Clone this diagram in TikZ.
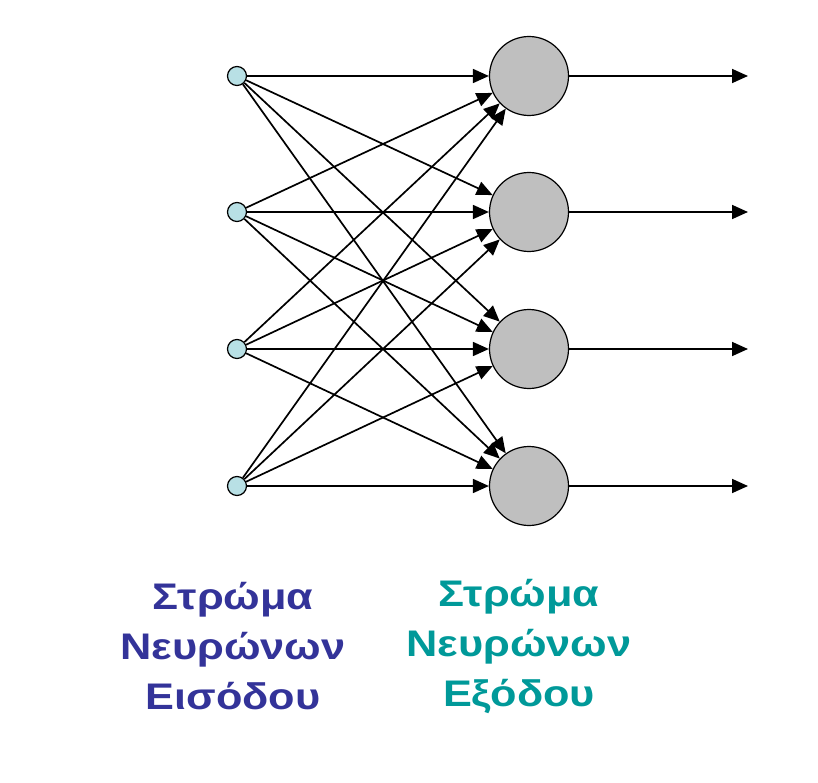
\documentclass[tikz,border=0pt]{standalone}
\usepackage{fontspec}
\newfontfamily\greekfont[FakeStretch=1.17]{Liberation Sans}
\usetikzlibrary{arrows.meta}
\definecolor{inblue}{rgb}{0.2,0.2,0.6}
\definecolor{outteal}{rgb}{0,0.6,0.6}
\definecolor{inputfill}{rgb}{0.72,0.88,0.9}
\definecolor{neurongray}{rgb}{0.75,0.75,0.75}

\begin{document}
\begin{tikzpicture}[x=1pt,y=-1pt,
    innode/.style={circle,draw,line width=1.2pt,fill=inputfill,minimum size=19pt,inner sep=0pt},
    outnode/.style={circle,draw,line width=1.2pt,fill=neurongray,minimum size=79pt,inner sep=0pt},
    link/.style={line width=1.7pt,-{Triangle[length=16pt,width=14pt]}},
    layerlabel/.style={font=\greekfont\bfseries\fontsize{37}{50}\selectfont,align=center}]
  \useasboundingbox (0,0) rectangle (818,783);
  % the two layers
  \foreach \i/\y in {1/76,2/212,3/349,4/486} {
    \node[innode] (in\i) at (237,\y) {};
    \node[outnode] (out\i) at (529,\y) {};
    \coordinate (end\i) at (748,\y);
  }
  % full connections
  \foreach \i in {1,...,4} {
    \foreach \j in {1,...,4}
      \draw[link] (in\i) -- (out\j);
    \draw[link] (out\i) -- (end\i);
  }
  \node[layerlabel,text=inblue] (inlabel) at (233,646) {Στρώμα\\Νευρώνων\\Εισόδου};
  \node[layerlabel,text=outteal] (outlabel) at (519,646) {Στρώμα\\Νευρώνων\\Εξόδου};
\end{tikzpicture}
\end{document}
